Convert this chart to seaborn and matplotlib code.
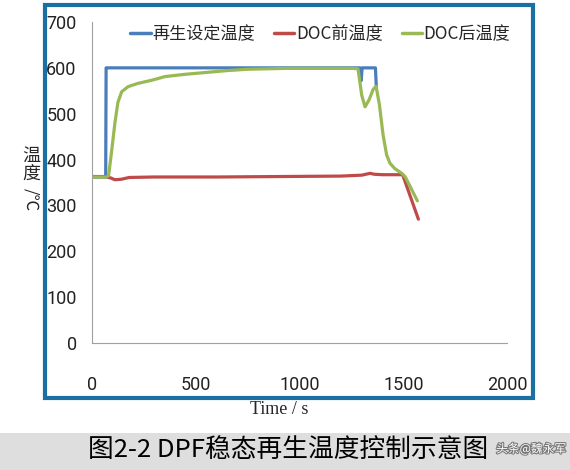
import pandas as pd
import matplotlib.pyplot as plt
import matplotlib.patheffects as pe
from matplotlib.patches import Rectangle
import seaborn as sns

# 数据
set_t = [0, 66, 68, 1292, 1297, 1302, 1366, 1370]
set_v = [362, 362, 600, 600, 572, 600, 600, 560]

pre_t = [0, 60, 90, 110, 140, 180, 300, 600, 900, 1200, 1300, 1340, 1360, 1400, 1497, 1573]
pre_v = [363, 363, 360, 356, 357, 361, 362, 362, 363, 364, 366, 370, 368, 367, 367, 270]

post_t = [0, 70, 80, 95, 111, 125, 143, 174, 220, 288, 352, 450, 550, 650, 750, 850,
          950, 1050, 1150, 1250, 1282, 1300, 1316, 1335, 1355, 1369, 1385, 1403, 1420,
          1436, 1460, 1493, 1510, 1568]
post_v = [362, 362, 365, 420, 482, 525, 548, 559, 566, 573, 581, 586, 590, 594, 597, 598,
          599, 599, 599, 599, 598, 540, 515, 530, 553, 560, 520, 453, 410, 392, 380, 370,
          362, 310]

names = ["再生设定温度", "DOC前温度", "DOC后温度"]
colors = ["#4a7ebb", "#be4b48", "#98b954"]
x_ticks = [0, 500, 1000, 1500, 2000]
y_ticks = [0, 100, 200, 300, 400, 500, 600, 700]

df = pd.concat([
    pd.DataFrame({"t": set_t, "v": set_v, "s": names[0]}),
    pd.DataFrame({"t": pre_t, "v": pre_v, "s": names[1]}),
    pd.DataFrame({"t": post_t, "v": post_v, "s": names[2]}),
])

sns.set_style("white")
plt.rcParams['font.family'] = ['Noto Sans CJK SC', 'DejaVu Sans']

fig = plt.figure(figsize=(5.7, 4.7), dpi=100)
ax = fig.add_axes([92/570, 1-343/470, 415/570, 321/470])

sns.lineplot(data=df, x="t", y="v", hue="s", palette=colors, sort=False,
             estimator=None, linewidth=2.3, ax=ax)

ax.set_xlim(0, 2000)
ax.set_ylim(0, 700)
ax.set_xticks(x_ticks)
ax.set_yticks(y_ticks)
ax.set_xlabel("")
ax.set_ylabel("")
for s in ["top", "right"]:
    ax.spines[s].set_visible(False)
for s in ["left", "bottom"]:
    ax.spines[s].set_color("#a0a0a0")
    ax.spines[s].set_linewidth(0.8)
ax.tick_params(axis="both", direction="in", length=4, width=0.8, color="#a0a0a0",
               labelsize=13, labelcolor="#222222")
ax.tick_params(axis="x", pad=24)
ax.tick_params(axis="y", pad=11)
for lab in ax.get_xticklabels() + ax.get_yticklabels():
    lab.set_family(['Roboto', 'DejaVu Sans'])

leg = ax.legend(loc="center", bbox_to_anchor=(0.55, 0.963), ncol=3, frameon=False,
                fontsize=12.3, handlelength=1.2, handletextpad=0.1, columnspacing=1.1)
for line in leg.get_lines():
    line.set_linewidth(2.5)

# 坐标轴标题
fig.text(31/570, 1-165/470, "温\n度", ha="center", va="center", fontsize=13,
         linespacing=1.0)
fig.text(31/570, 1-200/470, "/℃", ha="center", va="center", fontsize=12,
         rotation=270, family=['Noto Sans CJK SC', 'DejaVu Sans'])
fig.text(279/570, 1-410/470, "Time / s", ha="center", va="center", fontsize=13,
         family="Liberation Serif")

# 外框
fig.patches.append(Rectangle((45/570, 1-398/470), 488/570, 393/470, transform=fig.transFigure,
                             fill=False, ec="#1b6fa3", lw=3))
# 底部说明条
fig.patches.append(Rectangle((0, 0), 1, 37/470, transform=fig.transFigure,
                             fc="#dedede", ec="none"))
fig.text(288/570, 1-450/470, "图2-2 DPF稳态再生温度控制示意图", ha="center", va="center",
         fontsize=18.5, color="black")
fig.text(531/570, 1-449/470, "头条@魏永军", ha="center", va="center", fontsize=8.5,
         color="white", path_effects=[pe.withStroke(linewidth=1.5, foreground="#777777")])

fig.savefig("out.png", dpi=100)
